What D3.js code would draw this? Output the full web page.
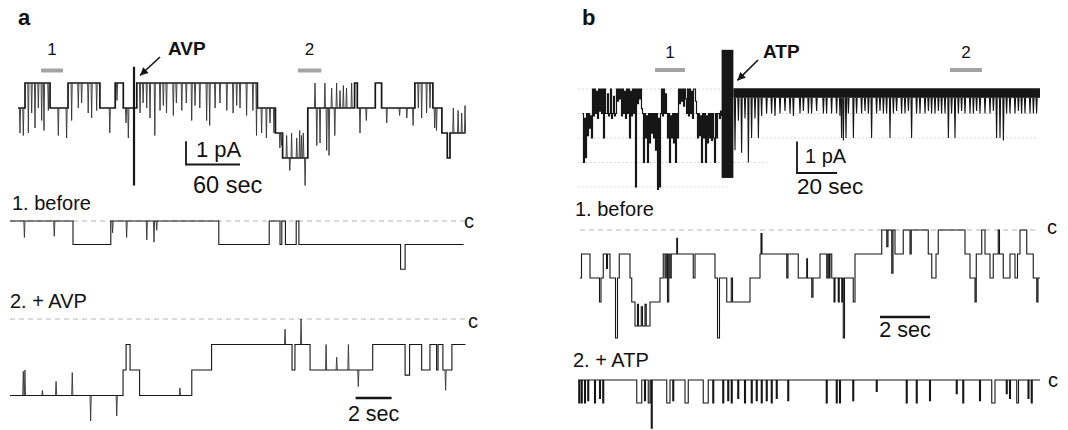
<!DOCTYPE html>
<html>
<head>
<meta charset="utf-8">
<script src="https://cdn.jsdelivr.net/npm/d3@7"></script>
<style>
  body { margin: 0; background: #fff; }
  text { font-family: "Liberation Sans", Arial, Helvetica, sans-serif; fill: #111; }
</style>
</head>
<body>
<svg id="fig" width="1068" height="430"></svg>
<script>
// ---------- data (time in s, current in open-channel levels) ----------

// panel a, long record: [time, level] steps, brief events [time, level]
const avpSteps = [[0,1],[7.8,0],[35.6,1],[55.6,0],[91,1],[108,0],[117,1],[132,0],[266,1],[286,2],[294,3],
  [322,1],[374,0],[377,1],[397,0],[404,1],[441,0],[461,1],[471,2],[477,3],[480,2],[497,2]];
const avpEvents = [[2.2,2],[5.9,2.1],[11.5,2],[15.2,1.2],[18.9,1.8],[22.6,1],[26.3,1.5],[28.9,1.9],[33.7,1.1],
  [44.8,2.1],[54,2.2],[59.6,1.5],[67,1],[70.7,0.8],[78,1.2],[81.8,1.4],[87.4,1.1],[102,2],[110,0.7],[120,1.6],
  [122.6,2.2],[135.6,1.2],[139,0.8],[143,1],[146.7,1.4],[152,2.1],[157.8,1.1],[161.5,0.9],[165,1.2],[172.6,1.3],
  [176,0.8],[182,1.1],[187,0.8],[193,1.5],[196.7,0.9],[202,1],[209.6,1.5],[213,1.7],[219,1],[224.4,0.8],[232,1.1],
  [239,1.2],[243,0.9],[246.7,1],[254,1.3],[261,1.1],[265,2.1],[270.7,2],[276,2.2],[280,1.6],[284.4,2],[291,2.6],
  [293,2.5],[298.5,2.1],[302,3.5],[304,2],[309.7,2.2],[313,1.9],[315,2.1],[317,2],[319,4.1],[330,0],[332,2.5],
  [335.6,2.4],[341,0],[343,2.7],[345.6,2.9],[348.5,0.2],[352,2.1],[354,0],[357.8,0.3],[361.5,0.1],[365,0.2],
  [370.7,0],[380,2],[387,1.5],[409.7,1.6],[424,1.3],[432,1.4],[439,1.7],[444.8,1],[448.5,1.4],[454,1.2],
  [457.8,1],[463,1.8],[465,1.9],[483.7,1],[489,1.1],[493,1.2],[496.7,0.9]];
const avpArtifact = [128.9, -0.65, 4.1];          // time, top level, bottom level
const avpSegments = [["1", 25.6, 50], ["2", 311, 337]];
const avpUnitPA = 1.07;                            // pA per open level

// panel a, expanded records
const before1Steps = [[0,0],[3.5,1],[5.6,0],[11.6,1],[14.4,0],[15.0,1],[15.1,0],[15.3,1],[15.9,0],[16.05,1],
  [21.7,2.05],[21.95,1],[25.2,1]];
const before1Events = [[0.8,0.7],[2.46,0.65],[5.7,0.5],[6.48,0.7],[7.6,0.8],[8.0,0.9],[8.15,0.4]];
const avp2Steps = [[0,3],[6.28,2],[6.45,1],[6.67,2],[7.2,3],[10.1,2],[11.2,1],[15.67,2],[15.83,1],[16.67,2],
  [20.15,1],[21.95,2.2],[22.2,1],[22.87,2],[23.33,1],[23.7,2],[23.78,1],[24.05,2],[24.55,1],[25.3,1]];
const avp2Events = [[0.74,2.05],[0.83,2.0],[1.8,2.8],[2.56,2.45],[3.46,2.1],[4.48,4.0],[5.93,3.8],[9.44,2.7],
  [15.28,0.4],[16.17,0.0],[17.56,1.0],[18.15,1.5],[18.8,1.0],[19.35,2.65],[24.2,2.8]];

// panel b, long record: 0.5 s samples before ATP, open band + events after
const atpSampleDt = 0.5;
const atpPreSamples = [1.0,3.0,1.2,2.8, 1.0,1.9,1.0,1.6,1.1,2.0, 0.0,1.1,0.0,1.0,0.1,1.2,
  0.0,0.9,0.0,1.0,0.0,2.0,0.0,1.0, 1.0,0.2,1.1,1.0,0.0,1.2,1.0,0.3,1.1,1.0, 0.0,0.5,0.0,0.4,
  0.0,1.1,0.0,1.0,0.1,1.2,0.0,1.0,0.0,2.0,0.1,1.1,0.0,1.0,0.0,4.0, 0.0,0.6,0.0,0.4,0.0,0.8,
  1.0,3.0,1.0,2.0,1.1,3.0,1.0,2.2,1.0,1.8,1.0,2.0, 1.0,2.5,1.0,4.1,1.2,4.0, 1.0,0.0,1.1,0.0,1.0,0.2,
  1.0,2.0,1.0,3.0,1.1,2.0,1.0,2.2,1.0,3.0,1.0,2.0, 0.0,0.6,0.0,0.5,0.0,0.7,0.0,0.4,
  1.0,0.0,1.1,0.0,1.0,0.1,1.2,0.0, 0.0,0.5, 1.0,2.0,1.0,1.9,1.1,3.0,1.0,2.0,1.0,3.0,1.1,2.2,1.0,2.0,
  1.0,2.1,1.0,2.0,3.0,1.0,2.0,1.0, 1.0,1.2,0.9,1.1];
const atpBar = [69.8, 75.7, -1.6, 3.63];
const atpBand = [75.7, 229, -0.03, 0.36];
const atpEvents = [[76.5,2.5],[78.2,1.3],[79.8,2.6],[81.5,1.2],[83.2,3.0],[84.8,2.0],[86.5,1.2],[88.2,2.0],
  [89.8,1.1],[92.3,1.0],[94.8,1.0],[96.5,1.1],[99,1.0],[101.5,0.9],[104,1.0],[105.7,1.1],[109,1.0],[110.7,0.9],
  [113.2,1.0],[114.8,1.0],[117.3,0.9],[120.7,1.0],[122.3,1.0],[124.8,1.0],[127.3,1.0],[129,1.1],[129.8,2.0],
  [130.7,2.1],[132,2.0],[133.2,1.0],[135.7,2.0],[137.3,1.0],[139.8,1.0],[141.5,0.9],[143.2,1.0],[144.8,2.0],
  [147.3,1.0],[149,0.9],[150.7,1.0],[152.3,1.0],[154,2.0],[155.7,1.0],[157.3,0.9],[159.8,1.0],[161.5,1.0],
  [163.2,0.9],[164.8,2.0],[167.3,1.0],[169,1.0],[171.5,1.0],[173.2,0.9],[174.8,1.0],[176.5,1.0],[178.2,0.9],
  [179.8,1.0],[181.5,1.0],[183.2,2.0],[184.8,1.0],[186.5,2.0],[188.2,1.0],[189.8,0.9],[191.5,1.0],[194,1.0],
  [195.7,1.0],[197.3,0.9],[199,1.0],[201.5,1.0],[204,1.0],[205.7,0.9],[207.3,2.0],[209,2.0],[210.7,2.1],
  [212.3,1.0],[214,1.0],[216.5,1.0],[218.2,0.9],[219.8,1.0],[221.5,1.0],[224,1.0],[225.7,1.0],[227.3,1.0]];
const atpLevels = [[0,-2,227.5],[1,-2,227.5],[2,-2,227.5],[3,-2,92.5],[4,-2,74]];  // level, from, to
const atpSegments = [["1", 36.5, 51.5], ["2", 184, 200]];
const atpUnitPA = 0.78;

// panel b, expanded records
const before2Steps = [[0,2],[0.06,1],[0.4,2],[0.78,3],[0.84,2],[0.93,1],[1.06,1.6],[1.1,1],[1.2,2],[1.42,4.5],
  [1.5,2],[1.57,1],[2.0,2],[2.07,3],[2.2,4],[2.3,3.1],[2.34,4],[2.45,3.2],[2.5,4],[2.6,3.1],[2.65,4],[2.8,3],
  [3.2,2],[3.33,1],[3.4,2],[3.45,1],[3.5,3],[3.55,1],[3.6,2],[3.65,1],[3.87,0.35],[3.9,1],[4.53,2],[4.6,1],
  [5.4,2],[5.5,4.5],[5.58,2],[5.87,3],[6.05,2],[6.1,3],[6.8,2],[7.2,1],[7.24,0.15],[7.28,1],[8.27,2],[8.32,1],
  [8.73,2],[9.07,1.2],[9.1,2],[9.27,2.8],[9.32,2],[9.6,1],[9.87,2],[9.92,1],[9.97,2],[10.0,1],[10.07,2],
  [10.16,3],[10.2,2],[10.33,3],[10.37,2],[10.47,3],[10.5,2],[10.53,4.5],[10.58,2],[10.93,3],[11.0,1],[12.07,0],
  [12.27,0.7],[12.32,0],[12.47,1.8],[12.52,0],[12.6,1],[12.93,0],[13.2,1],[13.25,0],[13.93,1],[14.07,2],
  [14.24,1],[14.33,0],[15.4,1],[15.6,2],[15.8,3],[15.85,1],[16.07,0],[16.2,1],[16.4,2],[16.53,1],[16.73,0],
  [16.78,1],[16.93,2],[17.2,1],[17.4,2],[17.5,1],[17.6,0],[17.87,1],[18.13,2],[18.27,3],[18.32,2],[18.4,2]];
const atp2Steps = [[0,0],[0.03,1],[0.07,0],[0.13,1],[0.17,0],[0.26,1],[0.3,0],[0.39,0.9],[0.43,0],[0.66,1],
  [0.7,0],[0.86,0.8],[0.9,0],[0.99,1],[1.03,0],[2.35,1],[2.55,0],[2.66,0.9],[2.7,0],[2.81,1],[2.88,0],[2.93,2.1],
  [2.97,0],[3.55,1],[3.68,0],[3.79,0.9],[3.83,0],[4.28,1],[4.41,0],[5.01,1],[5.21,0],[5.39,1],[5.43,0],[5.79,1],
  [5.83,0],[5.99,0.9],[6.03,0],[6.13,1],[6.17,0],[6.39,0.8],[6.43,0],[6.66,1],[6.7,0],[6.93,1],[6.97,0],
  [7.13,0.9],[7.17,0],[7.33,1],[7.37,0],[7.53,0.9],[7.57,0],[7.73,1],[7.77,0],[7.93,0.8],[7.97,0],[8.39,0.9],
  [8.43,0],[9.93,1],[9.97,0],[10.33,1],[10.37,0],[10.46,1],[10.5,0],[10.99,0.9],[11.03,0],[11.93,0.5],[11.97,0],
  [13.13,1],[13.17,0],[13.53,1],[13.57,0],[14.06,0.9],[14.1,0],[15.13,0.6],[15.17,0],[15.39,1],[15.43,0],
  [16.06,0.9],[16.1,0],[16.55,1],[16.68,0],[17.13,0.6],[17.17,0],[17.26,0.8],[17.3,0],[17.55,1],[17.62,0],
  [18.0,0.8],[18.04,0],[18.13,1],[18.17,0],[18.48,0]];

// ---------- scales ----------
const xA = d3.scaleLinear().domain([0, 497]).range([18, 465.3]);
const yA = d3.scaleLinear().domain([0, 1]).range([83, 108]);
const xAs = d3.scaleLinear().domain([0, 25.3]).range([10, 465.4]);
const yAs1 = d3.scaleLinear().domain([0, 1]).range([221, 244.5]);
const yAs2 = d3.scaleLinear().domain([0, 1]).range([319, 344.5]);
const xB = d3.scaleLinear().domain([0, 229]).range([582, 1040]);
const yB = d3.scaleLinear().domain([0, 1]).range([89, 113.5]);
const xBs1 = d3.scaleLinear().domain([0, 18.4]).range([580, 1040]);
const yBs1 = d3.scaleLinear().domain([0, 1]).range([230, 254]);
const xBs2 = d3.scaleLinear().domain([0, 18.48]).range([578, 1040]);
const yBs2 = d3.scaleLinear().domain([0, 1]).range([380, 403]);

const svg = d3.select("#fig");
const ink = "#161616";

function levelAt(steps, t) {
  let v = steps[0][1];
  for (const s of steps) { if (s[0] <= t) v = s[1]; else break; }
  return v;
}

function drawSteps(steps, x, y, w) {
  svg.append("path").datum(steps)
    .attr("d", d3.line().x(d => x(d[0])).y(d => y(d[1])).curve(d3.curveStepAfter))
    .attr("fill", "none").attr("stroke", ink).attr("stroke-width", w);
}

function drawEvents(events, steps, x, y, w, col) {
  svg.append("g").selectAll("path").data(events).join("path")
    .attr("d", d => {
      const b = steps ? y(levelAt(steps, d[0])) : y(atpBand[3]);
      const xx = x(d[0]);
      return `M${xx - 0.6},${b}L${xx},${y(d[1])}L${xx + 0.6},${b}`;
    })
    .attr("fill", "none").attr("stroke", col || ink).attr("stroke-width", w);
}

function label(x, y, s, size, weight, anchor) {
  svg.append("text").attr("x", x).attr("y", y).text(s)
    .attr("font-size", size).attr("font-weight", weight || "normal")
    .attr("text-anchor", anchor || "start");
}

function segmentBars(segs, x, yBar, yText) {
  segs.forEach(s => {
    svg.append("line").attr("x1", x(s[1])).attr("x2", x(s[2])).attr("y1", yBar).attr("y2", yBar)
      .attr("stroke", "#a3a3a3").attr("stroke-width", 4);
    label((x(s[1]) + x(s[2])) / 2, yText, s[0], 17, "normal", "middle");
  });
}

function arrow(x1, y1, x2, y2) {
  svg.append("line").attr("x1", x1).attr("y1", y1).attr("x2", x2).attr("y2", y2)
    .attr("stroke", ink).attr("stroke-width", 1.6);
  const a = Math.atan2(y2 - y1, x2 - x1), L = 8, W = 4;
  const bx = x2 - L * Math.cos(a), by = y2 - L * Math.sin(a);
  svg.append("path")
    .attr("d", `M${x2},${y2}L${bx + W * Math.sin(a)},${by - W * Math.cos(a)}L${bx - W * Math.sin(a)},${by + W * Math.cos(a)}Z`)
    .attr("fill", ink);
}

function closedLine(x0, x1, y) {
  svg.append("line").attr("x1", x0).attr("x2", x1).attr("y1", y).attr("y2", y)
    .attr("stroke", "#b4b4b4").attr("stroke-width", 1).attr("stroke-dasharray", "5,4");
}

// ---------- panel a ----------
label(18, 25, "a", 22, "bold");
segmentBars(avpSegments, xA, 70.5, 55);
drawSteps(avpSteps, xA, yA, 1.7);
drawEvents(avpEvents, avpSteps, xA, yA, 0.9, "#333");
svg.append("line").attr("x1", xA(avpArtifact[0])).attr("x2", xA(avpArtifact[0]))
  .attr("y1", yA(avpArtifact[1])).attr("y2", yA(avpArtifact[2]))
  .attr("stroke", ink).attr("stroke-width", 2.2);
label(168, 55, "AVP", 19, "bold");
arrow(160, 57, xA(avpArtifact[0]) + 6, yA(-0.3));

// scale bar a
const sbAx = 186, sbAy = 164.5;
const sbAh = yA(1 / avpUnitPA) - yA(0);
svg.append("path")
  .attr("d", `M${sbAx},${sbAy - sbAh}V${sbAy}H${sbAx + xA(60) - xA(0)}`)
  .attr("fill", "none").attr("stroke", ink).attr("stroke-width", 1.8);
label(196, 157, "1 pA", 22);
label(193, 193, "60 sec", 23.5);

// expanded a traces
label(12, 210, "1. before", 20);
closedLine(xAs(0), xAs(25.3), yAs1(0));
drawSteps(before1Steps, xAs, yAs1, 1.1);
drawEvents(before1Events, before1Steps, xAs, yAs1, 0.9, "#333");
label(464, 228, "c", 20);

label(10, 308, "2. + AVP", 20);
closedLine(xAs(0), xAs(25.3), yAs2(0));
drawSteps(avp2Steps, xAs, yAs2, 1.1);
drawEvents(avp2Events, avp2Steps, xAs, yAs2, 0.9, "#333");
label(468, 328, "c", 20);
svg.append("line").attr("x1", xAs(19.2)).attr("x2", xAs(21.2)).attr("y1", 398).attr("y2", 398)
  .attr("stroke", ink).attr("stroke-width", 2.4);
label((xAs(19.2) + xAs(21.2)) / 2, 421, "2 sec", 21.5, "normal", "middle");

// ---------- panel b ----------
label(582, 25, "b", 22, "bold");
svg.append("g").selectAll("line").data(atpLevels).join("line")
  .attr("x1", d => xB(d[1])).attr("x2", d => xB(d[2]))
  .attr("y1", d => yB(d[0])).attr("y2", d => yB(d[0]))
  .attr("stroke", "#cfcfcf").attr("stroke-width", 1.2).attr("stroke-dasharray", "1.5,2.5");
segmentBars(atpSegments, xB, 70, 57.5);
svg.append("path").datum(atpPreSamples)
  .attr("d", d3.line().x((d, i) => xB(i * atpSampleDt) + 0.5).y(d => yB(d)).curve(d3.curveStepAfter))
  .attr("fill", "none").attr("stroke", ink).attr("stroke-width", 1.2);
svg.append("rect").attr("x", xB(atpBand[0])).attr("width", xB(atpBand[1]) - xB(atpBand[0]))
  .attr("y", yB(atpBand[2])).attr("height", yB(atpBand[3]) - yB(atpBand[2])).attr("fill", ink);
drawEvents(atpEvents, null, xB, yB, 1.1);
svg.append("rect").attr("x", xB(atpBar[0])).attr("width", xB(atpBar[1]) - xB(atpBar[0]))
  .attr("y", yB(atpBar[2])).attr("height", yB(atpBar[3]) - yB(atpBar[2])).attr("fill", ink);
label(763, 58, "ATP", 19, "bold");
arrow(758, 60, xB(atpBar[1]) + 4, yB(-0.35));

// scale bar b
const sbBx = 797, sbBy = 173;
const sbBh = yB(1 / atpUnitPA) - yB(0);
svg.append("path")
  .attr("d", `M${sbBx},${sbBy - sbBh}V${sbBy}H${sbBx + xB(20) - xB(0)}`)
  .attr("fill", "none").attr("stroke", ink).attr("stroke-width", 1.8);
label(805, 163, "1 pA", 20);
label(797, 194, "20 sec", 22.5);

// expanded b traces
label(575, 216, "1. before", 20);
closedLine(xBs1(0), xBs1(18.25), yBs1(0));
drawSteps(before2Steps, xBs1, yBs1, 1.1);
label(1047, 234, "c", 20);
svg.append("line").attr("x1", xBs1(12)).attr("x2", xBs1(14)).attr("y1", 317).attr("y2", 317)
  .attr("stroke", ink).attr("stroke-width", 2.4);
label((xBs1(12) + xBs1(14)) / 2, 337, "2 sec", 21.5, "normal", "middle");

label(573, 367, "2. + ATP", 20);
drawSteps(atp2Steps, xBs2, yBs2, 1.1);
label(1048, 387, "c", 20);
</script>
</body>
</html>
